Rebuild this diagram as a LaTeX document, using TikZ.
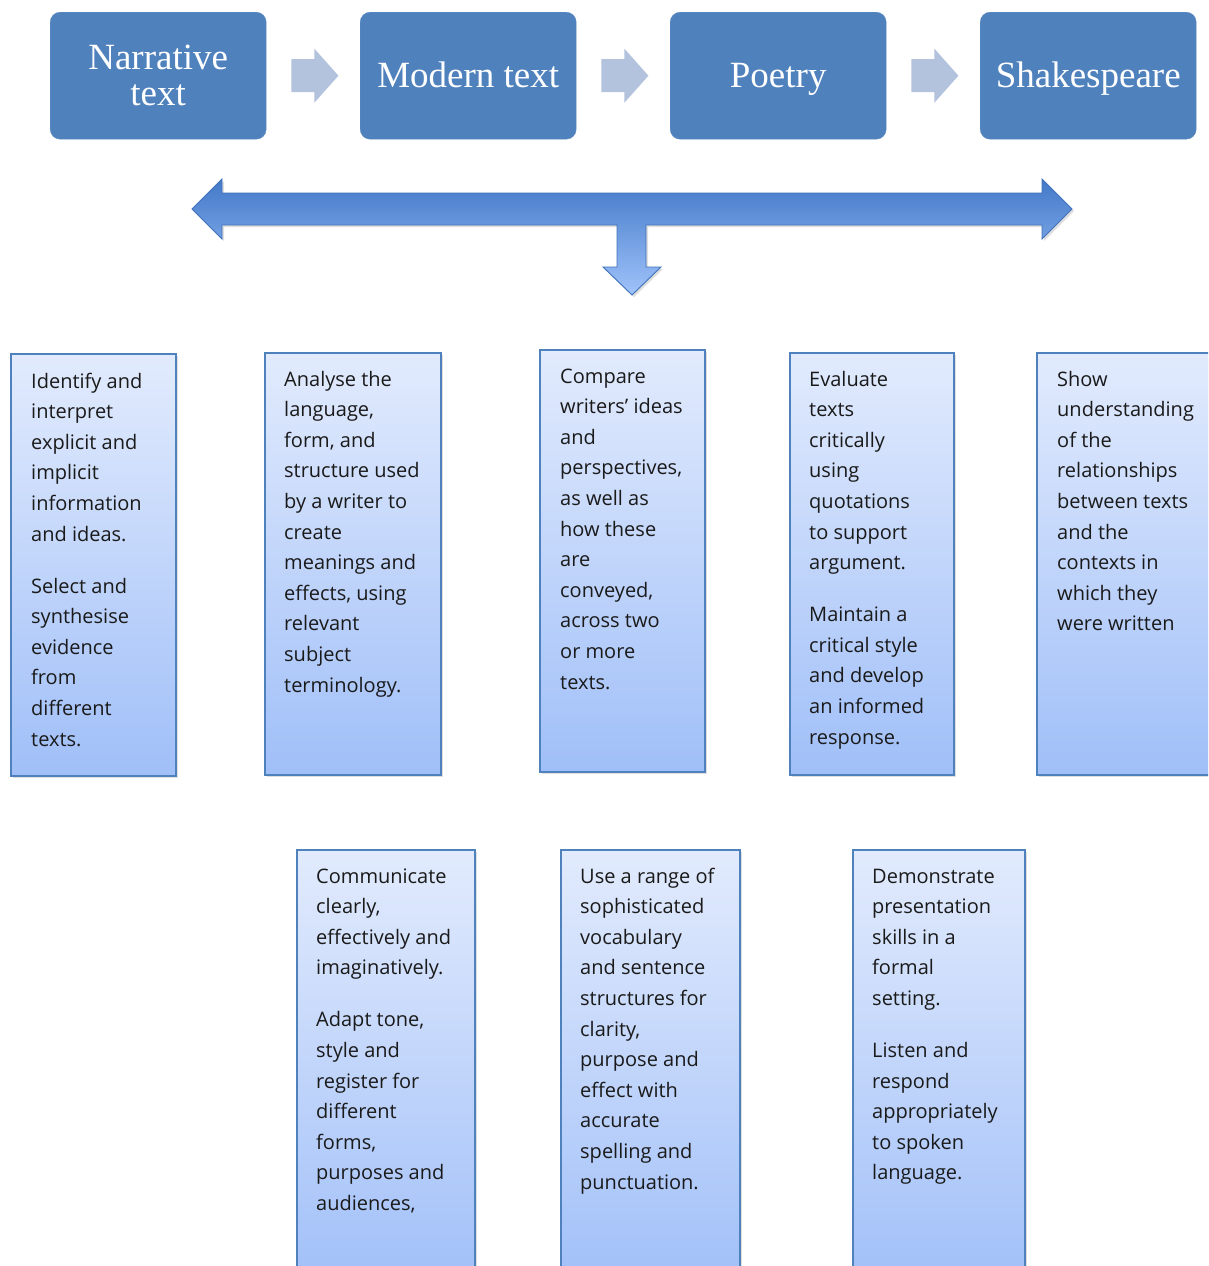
\documentclass[tikz,border=0pt]{standalone}
\usepackage{fontspec}
\newfontfamily\headfont{Liberation Serif}
\newfontfamily\bodyfont{Open Sans}
\usetikzlibrary{shadows,calc}
\definecolor{hdr}{HTML}{4F81BD}
\definecolor{chev}{HTML}{B3C2DD}
\definecolor{boxtop}{HTML}{E2EBFD}
\definecolor{boxbot}{HTML}{A0BFF8}
\definecolor{boxline}{HTML}{4F81BD}
\definecolor{arrtop}{HTML}{4279C8}
\definecolor{arrbot}{HTML}{A0C3FA}
\definecolor{arrline}{HTML}{3F72BA}
\definecolor{txt}{HTML}{1A1A1A}
\newcommand{\boxtext}[1]{\parbox[t]{220pt}{\raggedright\setlength{\parskip}{21.4pt}#1}}
\tikzset{
  hdrbox/.style={rounded corners=10pt, fill=hdr, draw=hdr!90!white, minimum width=216pt,
    minimum height=127pt, anchor=north west, inner sep=0pt, text=white,
    font=\headfont\fontsize{37}{36}\selectfont, align=center},
  oneline/.style={text height=26pt, text depth=3pt},
  obox/.style={draw=boxline, line width=1.6pt, top color=boxtop, bottom color=boxbot,
    anchor=north west, inner sep=0pt,
    drop shadow={shadow xshift=2pt, shadow yshift=-2pt, opacity=0.25}},
  otext/.style={anchor=base west, inner sep=0pt, text=txt,
    font=\bodyfont\fontsize{20}{30.6}\selectfont},
  chevron/.style={fill=chev},
  bigarrow/.style={draw=arrline, line width=0.9pt, top color=arrtop, bottom color=arrbot,
    line join=miter, drop shadow={shadow xshift=2pt, shadow yshift=-2pt, opacity=0.25}},
}
\begin{document}
\begin{tikzpicture}[x=1pt,y=-1pt]
\useasboundingbox (0,0) rectangle (1208,1266);
\clip (0,0) rectangle (1208,1266);
\fill[white] (0,0) rectangle (1208,1266);

% header boxes
\node[hdrbox] (h1) at (50,12) {Narrative\\text};
\node[hdrbox, oneline] (h2) at (360,12) {Modern text};
\node[hdrbox, oneline] (h3) at (670,12) {Poetry};
\node[hdrbox, oneline] (h4) at (980,12) {Shakespeare};

% chevrons
\foreach \a/\b in {h1/h2,h2/h3,h3/h4}{
  \coordinate (s) at ($(\a.east)+(25,0)$);
  \fill[chevron] ($(s)+(0,-16.5)$) -- ($(s)+(23,-16.5)$) -- ($(s)+(23,-27)$) -- ($(s)+(47,0)$)
    -- ($(s)+(23,27)$) -- ($(s)+(23,16.5)$) -- ($(s)+(0,16.5)$) -- cycle;
}

% big double arrow with down stem
\draw[bigarrow] (192,209) -- (222,179) -- (222,193) -- (1042,193) -- (1042,179) -- (1072,209)
  -- (1042,239) -- (1042,225) -- (646,225) -- (646,267) -- (661,267) -- (632,295)
  -- (603,267) -- (617,267) -- (617,225) -- (222,225) -- (222,239) -- cycle;

% objective boxes
\node[obox, minimum width=165pt, minimum height=422pt] (b1) at (10,353) {};
\node[obox, minimum width=176pt, minimum height=422pt] (b2) at (264,352) {};
\node[obox, minimum width=165pt, minimum height=422pt] (b3) at (539,349) {};
\node[obox, minimum width=164pt, minimum height=422pt] (b4) at (789,352) {};
\node[obox, minimum width=200pt, minimum height=422pt] (b5) at (1036,352) {};
\node[obox, minimum width=178pt, minimum height=440pt] (b6) at (296,849) {};
\node[obox, minimum width=179pt, minimum height=440pt] (b7) at (560,849) {};
\node[obox, minimum width=172pt, minimum height=440pt] (b8) at (852,849) {};

\node[otext] (t1) at ($(b1.north west)+(21,35)$) {\boxtext{Identify and\\ interpret\\ explicit and\\ implicit\\ information\\ and ideas.\par Select and\\ synthesise\\ evidence\\ from\\ different\\ texts.}};
\node[otext] (t2) at ($(b2.north west)+(20,34)$) {\boxtext{Analyse the\\ language,\\ form, and\\ structure used\\ by a writer to\\ create\\ meanings and\\ effects, using\\ relevant\\ subject\\ terminology.}};
\node[otext] (t3) at ($(b3.north west)+(21,34)$) {\boxtext{Compare\\ writers’ ideas\\ and\\ perspectives,\\ as well as\\ how these\\ are\\ conveyed,\\ across two\\ or more\\ texts.}};
\node[otext] (t4) at ($(b4.north west)+(20,34)$) {\boxtext{Evaluate\\ texts\\ critically\\ using\\ quotations\\ to support\\ argument.\par Maintain a\\ critical style\\ and develop\\ an informed\\ response.}};
\node[otext] (t5) at ($(b5.north west)+(21,34)$) {\boxtext{Show\\ understanding\\ of the\\ relationships\\ between texts\\ and the\\ contexts in\\ which they\\ were written}};
\node[otext] (t6) at ($(b6.north west)+(20,34)$) {\boxtext{Communicate\\ clearly,\\ effectively and\\ imaginatively.\par Adapt tone,\\ style and\\ register for\\ different\\ forms,\\ purposes and\\ audiences,}};
\node[otext] (t7) at ($(b7.north west)+(20,34)$) {\boxtext{Use a range of\\ sophisticated\\ vocabulary\\ and sentence\\ structures for\\ clarity,\\ purpose and\\ effect with\\ accurate\\ spelling and\\ punctuation.}};
\node[otext] (t8) at ($(b8.north west)+(20,34)$) {\boxtext{Demonstrate\\ presentation\\ skills in a\\ formal\\ setting.\par Listen and\\ respond\\ appropriately\\ to spoken\\ language.}};
\end{tikzpicture}
\end{document}
